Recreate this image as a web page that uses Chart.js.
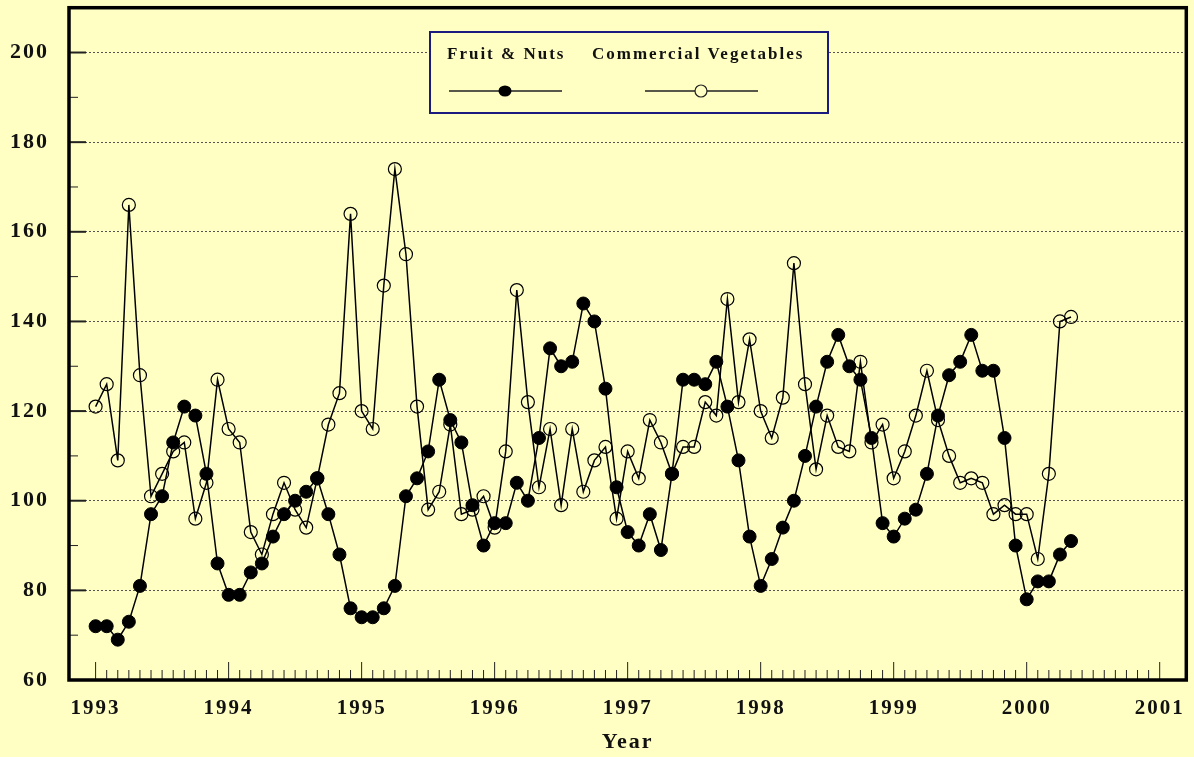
<!DOCTYPE html>
<html>
<head>
<meta charset="utf-8">
<script src="https://cdn.jsdelivr.net/npm/chart.js@4/dist/chart.umd.min.js"></script>
<style>
  body { margin: 0; background: #ffffc4; }
  #wrap { width: 1194px; height: 757px; }
</style>
</head>
<body>
<div id="wrap"><canvas id="chart" width="1194" height="757"></canvas></div>
<script>
// monthly values, Jan 1993 .. May 2000
const startYear = 1993;
const fruitNuts = [
    72, 72, 69, 73, 81, 97, 101, 113, 121, 119, 106, 86,
    79, 79, 84, 86, 92, 97, 100, 102, 105, 97, 88, 76,
    74, 74, 76, 81, 101, 105, 111, 127, 118, 113, 99, 90,
    95, 95, 104, 100, 114, 134, 130, 131, 144, 140, 125, 103,
    93, 90, 97, 89, 106, 127, 127, 126, 131, 121, 109, 92,
    81, 87, 94, 100, 110, 121, 131, 137, 130, 127, 114, 95,
    92, 96, 98, 106, 119, 128, 131, 137, 129, 129, 114, 90,
    78, 82, 82, 88, 91
];
const vegetables = [
    121, 126, 109, 166, 128, 101, 106, 111, 113, 96, 104, 127,
    116, 113, 93, 88, 97, 104, 98, 94, 105, 117, 124, 164,
    120, 116, 148, 174, 155, 121, 98, 102, 117, 97, 98, 101,
    94, 111, 147, 122, 103, 116, 99, 116, 102, 109, 112, 96,
    111, 105, 118, 113, 106, 112, 112, 122, 119, 145, 122, 136,
    120, 114, 123, 153, 126, 107, 119, 112, 111, 131, 113, 117,
    105, 111, 119, 129, 118, 110, 104, 105, 104, 97, 99, 97,
    97, 87, 106, 140, 141
];
const yearTicks = [1993, 1994, 1995, 1996, 1997, 1998, 1999, 2000, 2001];
const seriesNames = ["Fruit & Nuts", "Commercial Vegetables"];

const bg = "#ffffc4";
const serif = "'Liberation Serif', 'DejaVu Serif', serif";

function toPoints(values) {
    const pts = [];
    for (let i = 0; i < values.length; i++) {
        pts.push({ x: startYear + i / 12, y: values[i] });
    }
    return pts;
}

// frame + inward tick marks
const frameTicks = {
    id: "frameTicks",
    afterDatasetsDraw(chart) {
        const ctx = chart.ctx;
        const a = chart.chartArea;
        const xs = chart.scales.x;
        const ys = chart.scales.y;
        ctx.save();
        ctx.strokeStyle = "#222";
        // y ticks every 10
        for (let v = 70; v < 210; v += 10) {
            const y = ys.getPixelForValue(v);
            const major = v % 20 === 0;
            ctx.lineWidth = major ? 2 : 1;
            ctx.beginPath();
            ctx.moveTo(a.left, y);
            ctx.lineTo(a.left + (major ? 17 : 9), y);
            ctx.stroke();
        }
        // x ticks monthly
        for (let m = 0; m <= 96; m++) {
            const x = xs.getPixelForValue(startYear + m / 12);
            const major = m % 12 === 0;
            ctx.lineWidth = 1;
            ctx.beginPath();
            ctx.moveTo(x, a.bottom);
            ctx.lineTo(x, a.bottom - (major ? 18 : 10));
            ctx.stroke();
        }
        ctx.strokeStyle = "#000";
        ctx.lineWidth = 3.5;
        ctx.strokeRect(a.left, a.top, a.right - a.left, a.bottom - a.top);
        ctx.restore();
    }
};

// boxed legend, drawn by hand
const boxLegend = {
    id: "boxLegend",
    afterDraw(chart) {
        const ctx = chart.ctx;
        ctx.save();
        ctx.fillStyle = bg;
        ctx.fillRect(430, 32, 398, 81);
        ctx.strokeStyle = "#1a1a80";
        ctx.lineWidth = 2;
        ctx.strokeRect(430, 32, 398, 81);

        ctx.fillStyle = "#111";
        ctx.font = "bold 17px " + serif;
        ctx.letterSpacing = "2px";
        ctx.textBaseline = "alphabetic";
        ctx.textAlign = "left";
        ctx.fillText(seriesNames[0], 447, 59);
        ctx.fillText(seriesNames[1], 592, 59);

        ctx.strokeStyle = "#222";
        ctx.lineWidth = 1.5;
        ctx.beginPath();
        ctx.moveTo(449, 91); ctx.lineTo(562, 91);
        ctx.moveTo(645, 91); ctx.lineTo(758, 91);
        ctx.stroke();

        ctx.fillStyle = "#000";
        ctx.beginPath();
        ctx.ellipse(505, 91, 6.5, 5.5, 0, 0, Math.PI * 2);
        ctx.fill();

        ctx.fillStyle = bg;
        ctx.lineWidth = 1.2;
        ctx.beginPath();
        ctx.arc(701, 91, 6, 0, Math.PI * 2);
        ctx.fill();
        ctx.stroke();
        ctx.restore();
    }
};

const spacing = {
    id: "spacing",
    beforeDraw(chart) {
        chart.ctx.letterSpacing = "2px";
    }
};

const chartCanvas = document.getElementById("chart");
const chart = new Chart(chartCanvas.getContext("2d"), {
    type: "line",
    data: {
        datasets: [{
            label: seriesNames[0],
            data: toPoints(fruitNuts),
            borderColor: "#000",
            borderWidth: 1.5,
            pointRadius: 6.5,
            pointBackgroundColor: "#000",
            pointBorderColor: "#000",
            pointBorderWidth: 1,
        },
        {
            label: seriesNames[1],
            data: toPoints(vegetables),
            borderColor: "#000",
            borderWidth: 1.5,
            pointRadius: 6.5,
            pointBackgroundColor: "rgba(0,0,0,0)",
            pointBorderColor: "#000",
            pointBorderWidth: 1.2,
        },
    ],
    },
    options: {
        responsive: false,
        animation: false,
        layout: { padding: { top: 5, right: 4, left: 0, bottom: 0 } },
        plugins: { legend: { display: false }, tooltip: { enabled: false } },
        elements: { line: { tension: 0 } },
        scales: {
            x: {
                type: "linear",
                min: 1992.8,
                max: 2001.2,
                afterBuildTicks(scale) {
                    scale.ticks = yearTicks.map(v => ({ value: v }));
                },
                afterFit(scale) {
                    scale.height = 77;
                    scale.paddingLeft = 0;
                    scale.paddingRight = 0;
                },
                grid: { display: false, drawTicks: false },
                border: { display: false },
                ticks: {
                    padding: 16,
                    color: "#111",
                    font: { family: serif, size: 21, weight: "bold" },
                    callback: v => String(v),
                },
                title: {
                    display: true,
                    text: "Year",
                    color: "#111",
                    padding: { top: 0, bottom: 1 },
                    font: { family: serif, size: 22, weight: "bold" },
                },
            },
            y: {
                min: 60,
                max: 210,
                afterFit(scale) {
                    scale.width = 69;
                    scale.paddingTop = 0;
                    scale.paddingBottom = 0;
                },
                ticks: {
                    stepSize: 10,
                    padding: 20,
                    color: "#111",
                    font: { family: serif, size: 22, weight: "bold" },
                    callback: v => (v % 20 === 0 && v <= 200 ? String(v) : ""),
                },
                grid: {
                    drawTicks: false,
                    lineWidth: 1,
                    color: c => {
                        const v = c.tick ? c.tick.value : 0;
                        return (v % 20 === 0 && v > 60 && v <= 200) ? "#555" : "rgba(0,0,0,0)";
                    },
                },
                border: { display: false, dash: [2, 2] },
            },
        },
    },
    plugins: [spacing, frameTicks, boxLegend],
});
</script>
</body>
</html>
